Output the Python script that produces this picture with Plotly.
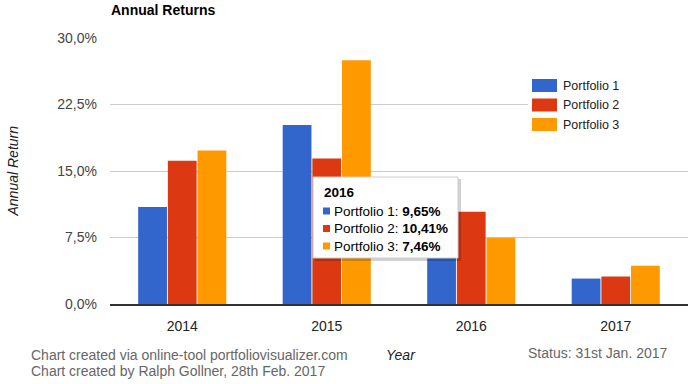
import plotly.graph_objects as go

years = ["2014", "2015", "2016", "2017"]
portfolio_1 = [10.95, 20.2, 9.65, 2.87]
portfolio_2 = [16.15, 16.4, 10.41, 3.1]
portfolio_3 = [17.3, 27.5, 7.46, 4.3]
series_names = ["Portfolio 1", "Portfolio 2", "Portfolio 3"]
series_colors = ["#3366cc", "#dc3912", "#ff9900"]
y_tickvals = [0, 7.5, 15, 22.5, 30]
y_ticktext = ["0,0%", "7,5%", "15,0%", "22,5%", "30,0%"]
tooltip_year = "2016"
tooltip_values = ["9,65%", "10,41%", "7,46%"]

W, H = 699, 384
L, R, T, B = 110, 11, 38, 80
PW, PH = W - L - R, H - T - B
FONT = "Arial, 'Liberation Sans', sans-serif"


def px(x):
    return (x - L) / PW


def py(y):
    return (H - B - y) / PH


fig = go.Figure()
for name, vals, col in zip(series_names, [portfolio_1, portfolio_2, portfolio_3], series_colors):
    fig.add_trace(go.Bar(x=years, y=vals, name=name, marker=dict(color=col, line=dict(width=0)),
                         showlegend=False, hoverinfo="skip"))

fig.update_layout(
    width=W, height=H,
    margin=dict(l=L, r=R, t=T, b=B),
    paper_bgcolor="white", plot_bgcolor="white",
    barmode="group", bargap=0.384, bargroupgap=0.03,
    font=dict(family=FONT, size=14, color="#222"),
    showlegend=False,
)
fig.update_yaxes(range=[0, 30], tickvals=y_tickvals, ticktext=y_ticktext,
                 showgrid=True, gridcolor="#cccccc", gridwidth=1,
                 zeroline=False, showline=False, ticks="",
                 ticklabelstandoff=12, tickfont=dict(size=14, color="#444"),
                 fixedrange=True)
fig.update_xaxes(showline=True, linecolor="#333", linewidth=1.5, ticks="",
                 ticklabelstandoff=8, tickfont=dict(size=14, color="#222"),
                 showgrid=False, fixedrange=True)

shapes = []
# legend background covering grid line
shapes.append(dict(type="rect", xref="paper", yref="paper", x0=px(528), x1=px(688), y0=py(137), y1=py(74),
                   fillcolor="white", line=dict(width=0), layer="above"))
legend_y = [85.5, 105, 124.5]
for yy, col in zip(legend_y, series_colors):
    shapes.append(dict(type="rect", xref="paper", yref="paper", x0=px(532), x1=px(557),
                       y0=py(yy + 6.5), y1=py(yy - 6.5), fillcolor=col, line=dict(width=0), layer="above"))
# tooltip shadow and box
shapes.append(dict(type="rect", xref="paper", yref="paper", x0=px(315), x1=px(461), y0=py(261), y1=py(179),
                   fillcolor="rgba(0,0,0,0.18)", line=dict(width=0), layer="above"))
shapes.append(dict(type="rect", xref="paper", yref="paper", x0=px(313), x1=px(458), y0=py(258), y1=py(177),
                   fillcolor="white", line=dict(color="#cccccc", width=1), layer="above"))

ann = []
ann.append(dict(text="<b>Annual Returns</b>", xref="paper", yref="paper", x=px(109), y=py(10),
                xanchor="left", yanchor="middle", showarrow=False, font=dict(size=14, color="#000")))
for yy, name in zip(legend_y, series_names):
    ann.append(dict(text=name, xref="paper", yref="paper", x=px(561), y=py(yy), xanchor="left",
                    yanchor="middle", showarrow=False, font=dict(size=12.5, color="#222")))
ann.append(dict(text="Annual Return", xref="paper", yref="paper", x=px(12.5), y=py(171),
                xanchor="center", yanchor="middle", textangle=-90, showarrow=False,
                font=dict(size=14, color="#222", style="italic")))
ann.append(dict(text="Year", xref="paper", yref="paper", x=px(401), y=py(355),
                xanchor="center", yanchor="middle", showarrow=False,
                font=dict(size=14, color="#222", style="italic")))
ann.append(dict(text="Chart created via online-tool portfoliovisualizer.com", xref="paper", yref="paper",
                x=px(29), y=py(355), xanchor="left", yanchor="middle", showarrow=False,
                font=dict(size=14, color="#666")))
ann.append(dict(text="Chart created by Ralph Gollner, 28th Feb. 2017", xref="paper", yref="paper",
                x=px(29), y=py(371), xanchor="left", yanchor="middle", showarrow=False,
                font=dict(size=14, color="#666")))
ann.append(dict(text="Status: 31st Jan. 2017", xref="paper", yref="paper",
                x=px(526), y=py(353), xanchor="left", yanchor="middle", showarrow=False,
                font=dict(size=14, color="#666")))
# tooltip text
ann.append(dict(text="<b>" + tooltip_year + "</b>", xref="paper", yref="paper", x=px(322), y=py(193),
                xanchor="left", yanchor="middle", showarrow=False, font=dict(size=13.5, color="#000")))
tip_y = [211, 228.5, 246]
for yy, name, val, col in zip(tip_y, series_names, tooltip_values, series_colors):
    shapes.append(dict(type="rect", xref="paper", yref="paper", x0=px(323), x1=px(330),
                       y0=py(yy + 3.5), y1=py(yy - 3.5), fillcolor=col, line=dict(width=0), layer="above"))
    ann.append(dict(text=name + ": <b>" + val + "</b>", xref="paper", yref="paper", x=px(332), y=py(yy),
                    xanchor="left", yanchor="middle", showarrow=False, font=dict(size=13.5, color="#000")))
fig.update_layout(shapes=shapes, annotations=ann)

fig.write_html("out.html", config={"displayModeBar": False},
               post_script="document.body.style.margin='0px';document.body.style.overflow='hidden';")
